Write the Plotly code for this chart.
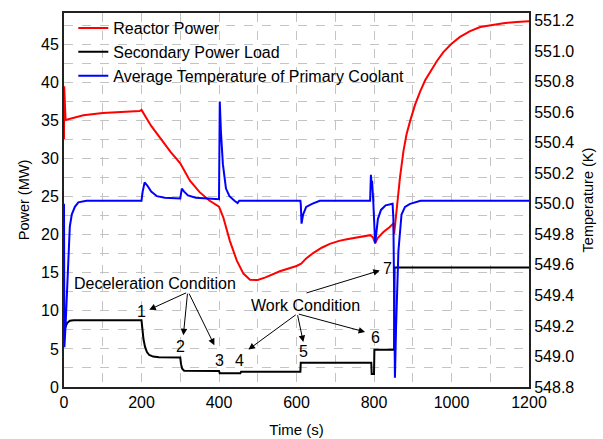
import plotly.graph_objects as go

# ---------------- data ----------------
red_t = [0, 0.5, 4, 25, 50, 100, 150, 195, 200, 210, 225, 250, 275, 300, 325, 350, 375, 400,
         403, 411, 428, 446, 463, 480, 500, 520, 557, 600, 612, 625, 643, 665, 686, 710, 730,
         760, 790, 797, 803, 810, 825, 840, 850, 852, 856, 860, 867, 876, 884, 893, 906, 919,
         932, 945, 962, 979, 1000, 1022, 1048, 1074, 1104, 1134, 1168, 1200]
red_p = [32.6, 39.5, 35.1, 35.4, 35.7, 36.0, 36.15, 36.25, 36.4, 35.6, 34.3, 32.6, 30.9, 29.4,
         27.1, 25.6, 24.5, 23.7, 23.3, 22.3, 19.2, 16.6, 14.9, 14.1, 14.05, 14.4, 15.2, 15.9,
         16.2, 16.9, 17.6, 18.3, 18.8, 19.2, 19.4, 19.7, 19.95, 19.7, 18.9, 19.6, 20.4, 21.0,
         21.5, 20.1, 22.0, 24.5, 27.5, 31.0, 33.2, 34.9, 37.1, 38.8, 40.3, 41.4, 42.8, 44.0,
         45.1, 46.0, 46.75, 47.3, 47.6, 47.8, 47.97, 48.05]

black_t = [0, 3, 8, 15, 25, 200, 202, 205, 209, 214, 220, 230, 245, 300, 302, 305, 310, 400,
           402, 455, 457, 610, 611, 793, 794, 800, 801, 852, 853, 1200]
black_p = [7.4, 7.9, 8.4, 8.7, 8.78, 8.78, 7.6, 6.3, 5.3, 4.6, 4.2, 4.0, 3.9, 3.88, 3.0, 2.4,
           2.15, 2.1, 1.8, 1.8, 2.0, 2.0, 3.2, 3.2, 1.7, 1.7, 4.9, 4.9, 15.7, 15.7]

blue_t = [0, 1, 4, 7, 11, 15, 20, 28, 37, 58, 200, 203, 208, 215, 225, 240, 260, 300, 304, 310,
          320, 340, 400, 402, 405, 410, 418, 427, 440, 448, 452, 610, 611, 613, 617, 625, 640,
          660, 790, 792, 794, 795, 798, 803, 810, 818, 830, 848, 850, 852, 854, 857, 863, 871,
          880, 893, 920, 1200]
blue_T = [550.0, 549.06, 549.2, 549.39, 549.71, 549.85, 549.93, 549.98, 550.01, 550.02, 550.02,
          550.08, 550.14, 550.12, 550.08, 550.05, 550.04, 550.035, 550.1, 550.08, 550.055,
          550.04, 550.03, 550.67, 550.47, 550.26, 550.10, 550.05, 550.02, 550.005, 550.02,
          550.02, 550.0, 549.87, 549.93, 549.98, 550.0, 550.02, 550.02, 550.19, 550.12, 550.15,
          550.02, 549.74, 549.9, 549.96, 549.99, 550.0, 549.9, 549.3, 548.86, 549.2, 549.69,
          549.93, 549.98, 550.0, 550.02, 550.02]

x_ticks = [0, 200, 400, 600, 800, 1000, 1200]
y_ticks = [0, 5, 10, 15, 20, 25, 30, 35, 40, 45]
y2_ticks = [548.8, 549.0, 549.2, 549.4, 549.6, 549.8, 550.0, 550.2, 550.4, 550.6, 550.8, 551.0, 551.2]

# annotation labels (text, t, power)
labels = [("Deceleration Condition", 234, 13.6), ("Work Condition", 624, 10.7),
          ("1", 200, 9.9), ("2", 301, 5.3), ("3", 401, 3.5), ("4", 454, 3.5),
          ("5", 617, 4.6), ("6", 803, 6.5), ("7", 835, 15.55)]
# arrows (tail t, tail P, head t, head P)
arrows = [(319, 12.46, 220, 10.16), (319, 12.46, 308, 6.8), (321, 12.46, 388, 5.5),
          (602, 9.63, 476, 4.93), (602, 9.63, 617.5, 5.92), (602, 9.63, 777, 7.23),
          (622, 12.3, 815, 15.3)]

FONT = "Liberation Sans, Arial, sans-serif"

fig = go.Figure()
fig.add_trace(go.Scatter(x=red_t, y=red_p, mode="lines", name="Reactor Power",
                         line=dict(color="#ff0000", width=2)))
fig.add_trace(go.Scatter(x=black_t, y=black_p, mode="lines", name="Secondary Power Load",
                         line=dict(color="#000000", width=2)))
fig.add_trace(go.Scatter(x=blue_t, y=blue_T, mode="lines",
                         name="Average Temperature of Primary Coolant",
                         line=dict(color="#0000ff", width=2), yaxis="y2"))

for txt, t, p in labels:
    fig.add_annotation(x=t, y=p, xref="x", yref="y", text=txt, showarrow=False,
                       font=dict(size=16, color="black", family=FONT))
for tt, tp, ht, hp in arrows:
    fig.add_annotation(x=ht, y=hp, ax=tt, ay=tp, xref="x", yref="y", axref="x", ayref="y",
                       text="", showarrow=True, arrowhead=2, arrowsize=1.3, arrowwidth=1,
                       arrowcolor="black")

grid = dict(showgrid=True, gridcolor="#c4c4c4", gridwidth=1, griddash="dash")
fig.update_layout(
    width=603, height=439,
    margin=dict(l=64, r=74, t=11, b=52),
    paper_bgcolor="white", plot_bgcolor="white",
    font=dict(family=FONT, size=16, color="black"),
    showlegend=True,
    legend=dict(x=0.02, y=1.005, xanchor="left", yanchor="top", bgcolor="rgba(0,0,0,0)",
                font=dict(size=16), tracegroupgap=0, itemwidth=30),
    xaxis=dict(range=[0, 1200], tickvals=x_ticks, ticks="", showline=True, linecolor="#222",
               linewidth=2, mirror=True, zeroline=False, automargin=False,
               title=dict(text="Time (s)", font=dict(size=15), standoff=14),
               minor=dict(dtick=100, **grid), **grid),
    yaxis=dict(range=[0, 49.14], tickvals=y_ticks, ticks="", showline=True, linecolor="#222",
               linewidth=2, mirror=False, zeroline=False, automargin=False,
               title=dict(text="Power (MW)", font=dict(size=14.5), standoff=8),
               minor=dict(dtick=2.5, **grid), **grid),
    yaxis2=dict(range=[548.8, 551.25], tickvals=y2_ticks, tickformat=".1f", ticks="",
                overlaying="y", side="right", showline=True, linecolor="#222", linewidth=2,
                showgrid=False, zeroline=False, automargin=False,
                title=dict(text="Temperature (K)", font=dict(size=14.5), standoff=10)),
)

fig.write_html("out.html")
